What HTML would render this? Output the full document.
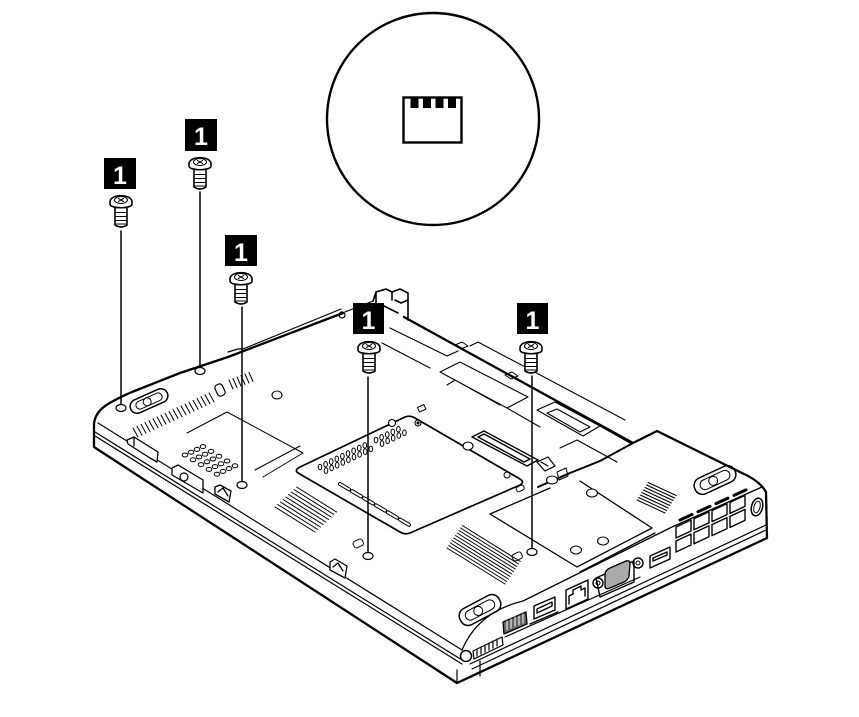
<!DOCTYPE html>
<html><head><meta charset="utf-8"><style>
html,body{margin:0;padding:0;background:#fff;}
svg{display:block;}
.t{font-family:"Liberation Sans",Arial,sans-serif;font-weight:bold;font-size:25px;fill:#fff;}
</style></head><body>
<svg width="859" height="717" viewBox="0 0 859 717" xmlns="http://www.w3.org/2000/svg">
<defs>
<g id="sc">
 <path d="M-6,13 L-6,30 Q0,34 6,30 L6,13" fill="#fff" stroke="#000" stroke-width="1.6"/>
 <path d="M-6,17.5 L6,17.5 M-6,21.5 L6,21.5 M-6,25.5 L6,25.5 M-5,29 L5,29" stroke="#000" stroke-width="1"/>
 <path d="M-11,7 C-11,-1.5 11,-1.5 11,7 L11,9 C11,14 -11,14 -11,9 Z" fill="#fff" stroke="#000" stroke-width="1.6"/>
 <ellipse cx="0" cy="5" rx="6.5" ry="3.5" fill="none" stroke="#000" stroke-width="1"/>
 <path d="M-3,3.3 L3,6.7 M3,3.3 L-3,6.7" stroke="#000" stroke-width="1"/>
</g>
</defs>
<rect width="859" height="717" fill="#fff"/>

<!-- callout circle -->
<circle cx="433" cy="119" r="106" fill="none" stroke="#000" stroke-width="2.4"/>
<rect x="403.5" y="97.5" width="58" height="45" fill="none" stroke="#000" stroke-width="2.4"/>
<rect x="410.5" y="97" width="8" height="11" fill="#000"/>
<rect x="423" y="97" width="8" height="11" fill="#000"/>
<rect x="435.5" y="97" width="8" height="11" fill="#000"/>
<rect x="448" y="97" width="8" height="11" fill="#000"/>

<g fill="none" stroke="#000" stroke-linecap="round" stroke-linejoin="round">

<!-- main outline -->
<path stroke-width="2.3" d="M94,432 L94,424 Q95,412 108,404 Q118,398 132,392 L180,373 L228,357 L343,313"/>
<path stroke-width="1.2" d="M228,352 L238,349 L243,349 L341,309"/>
<circle cx="342" cy="315" r="3" stroke-width="1.2"/>
<path stroke-width="1.2" d="M345,312 L373,301"/>
<path stroke-width="1.6" d="M373,301 L376,292 L386,289 L392,292 L400,289 L408,293 L408,320 M376,292 L376,303 M392,292 L392,300 M408,300 L401,303 L395,300 M380,304 L398,313"/>
<path stroke-width="2.3" d="M404,317 L633,443 L657,431 L742,473 Q760,481 766,492 L767,538 L457,683 L94,447 L94,432"/>

<!-- front-left face -->
<path stroke-width="1.2" d="M98,423 L462,650 M95,432 L462,660 M95,436 L462,664 M457,670 L457,683 M480,661 L480,676"/>
<!-- front-right (port) face -->
<path stroke-width="1.3" d="M462,650 Q478,612 523,601 L672,527 L762,487"/>
<path stroke-width="1.2" d="M470,664 L766,525 M472,669 L766,530 M505,637 L640,577"/>
<circle cx="466" cy="656" r="5.5" stroke-width="1.5"/>
<path stroke-width="1.2" d="M473,651 L502,637 L503,645 L474,659 Z M477,649 L477,656 M481,647 L481,654 M485,645 L485,652 M489,643 L489,650 M493,641 L493,648 M497,639 L497,646"/>
<path stroke-width="1.3" fill="#666" d="M503,622 L526,612 L527,624 L504,634 Z"/>
<path stroke-width="1" stroke="#fff" d="M507,621 L507,630 M511,619 L511,628 M515,617 L515,626 M519,616 L519,625 M523,614 L523,623"/>
<path stroke-width="1.4" d="M534,606 L555,597 L555,610 L534,619 Z M537,609 L552,602 L552,606 L537,613 Z M530,624 L558,612"/>
<path stroke-width="1.4" d="M566,590 L588,580 L588,599 L566,609 Z M569,604 L569,596 L573,594 L573,590 L581,586 L581,590 L585,588 L585,596"/>
<path stroke-width="1.4" d="M596,578 L634,561 L634,582 L600,597 Z"/>
<path stroke-width="1.3" fill="#aaa" d="M605,575 Q605,570 610,568 L626,561 Q630,560 630,564 L629,576 Q628,580 624,582 L610,588 Q605,590 605,586 Z"/>
<circle cx="598" cy="583" r="5" stroke-width="1.4"/><circle cx="598" cy="583" r="2" stroke-width="1"/>
<circle cx="638" cy="563" r="5" stroke-width="1.4"/><circle cx="638" cy="563" r="2" stroke-width="1"/>
<path stroke-width="1.4" d="M650,556 L670,547 L670,559 L650,568 Z M653,558 L667,552 L667,555 L653,561 Z"/>
<!-- fan grille -->
<path stroke-width="1.4" d="M676,527 L691,520 L691,531 L676,538 Z M694,518.8 L709,511.8 L709,522.8 L694,529.8 Z M712,510.6 L727,503.6 L727,514.6 L712,521.6 Z M730,502.4 L745,495.4 L745,506.4 L730,513.4 Z M676,541 L691,534 L691,545 L676,552 Z M694,532.8 L709,525.8 L709,536.8 L694,543.8 Z M712,524.6 L727,517.6 L727,528.6 L712,535.6 Z M730,516.4 L745,509.4 L745,520.4 L730,527.4 Z"/>
<path stroke-width="3" d="M680,520 L692,514.5 M698,511.8 L710,506.3 M716,503.6 L728,498.1 M734,495.4 L746,489.9"/>
<ellipse cx="757" cy="507" rx="5.5" ry="9" stroke-width="1.5" transform="rotate(15 757 507)"/>
<ellipse cx="757" cy="507" rx="3" ry="6" stroke-width="1" transform="rotate(15 757 507)"/>

<!-- foot pads -->
<g transform="translate(149,401) rotate(-24)" stroke-width="1.5"><rect x="-20" y="-7" width="40" height="14" rx="7"/><rect x="-14" y="-4" width="28" height="8" rx="4" stroke-width="1"/><circle cx="-2" cy="0" r="4" stroke-width="1"/></g>
<g transform="translate(480,610) rotate(-28)" stroke-width="1.5"><rect x="-22" y="-9" width="44" height="18" rx="8"/><rect x="-16" y="-5" width="32" height="10" rx="5" stroke-width="1"/><circle cx="-2" cy="0" r="4.5" stroke-width="1"/></g>
<g transform="translate(715,480) rotate(-25)" stroke-width="1.5"><rect x="-22" y="-8.5" width="44" height="17" rx="8"/><rect x="-16" y="-5" width="32" height="10" rx="5" stroke-width="1"/><circle cx="-2" cy="0" r="4.5" stroke-width="1"/></g>

<!-- left vent -->
<path stroke-width="1" d="M133,428l5,9 M137,426.2l5,9 M141,424.3l5,9 M145,422.5l5,9 M149,420.6l5,9 M153,418.8l5,9 M157,416.9l5,9 M161,415.1l5,9 M165,413.2l5,9 M169,411.4l5,9 M173,409.5l5,9 M177,407.7l5,9 M181,405.8l5,9 M185,404l5,9 M189,402.1l5,9 M193,400.3l5,9 M197,398.4l5,9 M201,396.6l5,9 M205,394.7l5,9 M209,392.9l5,9"/>
<rect x="216" y="384" width="8" height="12" rx="3" stroke-width="1.2" transform="rotate(-25 220 390)"/>
<path stroke-width="1" d="M229,380l4,9 M233,378.5l4,9 M237,377l4,9 M241,375.5l4,9 M245,374l4,9 M249,372.5l4,9"/>
<ellipse cx="277" cy="395" rx="5" ry="4" stroke-width="1.1"/>

<!-- left inner panel and honeycomb -->
<path stroke-width="1" d="M187,433 L227,412 L303,453 M263,477 L303,453 M255,470 L300,446"/>
<g stroke-width="1">
<ellipse cx="185" cy="455" rx="2.8" ry="2"/><ellipse cx="191" cy="452.2" rx="2.8" ry="2"/><ellipse cx="197" cy="449.4" rx="2.8" ry="2"/><ellipse cx="203" cy="446.6" rx="2.8" ry="2"/>
<ellipse cx="193" cy="459.8" rx="2.8" ry="2"/><ellipse cx="199" cy="457" rx="2.8" ry="2"/><ellipse cx="205" cy="454.2" rx="2.8" ry="2"/><ellipse cx="211" cy="451.4" rx="2.8" ry="2"/>
<ellipse cx="201" cy="464.6" rx="2.8" ry="2"/><ellipse cx="207" cy="461.8" rx="2.8" ry="2"/><ellipse cx="213" cy="459" rx="2.8" ry="2"/><ellipse cx="219" cy="456.2" rx="2.8" ry="2"/>
<ellipse cx="209" cy="469.4" rx="2.8" ry="2"/><ellipse cx="215" cy="466.6" rx="2.8" ry="2"/><ellipse cx="221" cy="463.8" rx="2.8" ry="2"/><ellipse cx="227" cy="461" rx="2.8" ry="2"/>
<ellipse cx="217" cy="474.2" rx="2.8" ry="2"/><ellipse cx="223" cy="471.4" rx="2.8" ry="2"/><ellipse cx="229" cy="468.6" rx="2.8" ry="2"/><ellipse cx="235" cy="465.8" rx="2.8" ry="2"/>
</g>

<!-- front-left face features -->
<path stroke-width="1.3" fill="#fff" d="M127,440 L134,437 L158,452 L157,462 L150,458 L128,444 Z M134,437 L134,446"/>
<path stroke-width="1.3" fill="#fff" d="M172,468 L178,465 L203,480 L203,493 L172,475 Z"/>
<circle cx="184" cy="477" r="4" stroke-width="1.2"/>
<path stroke-width="1.3" fill="#fff" d="M215,487 L220,485 L231,491 L229,502 L215,494 Z M218,492 L223,488 L228,496"/>
<path stroke-width="1.3" fill="#fff" d="M330,562 L335,559 L347,566 L345,578 L330,570 Z M333,567 L338,563 L343,571"/>

<!-- memory door -->
<path stroke-width="1.7" d="M300,467 L405,417 Q410,415 415,418 L520,479 Q525,482 520,485 L410,533 Q405,535 400,532 L298,473 Q294,470 300,467 Z"/>
<circle cx="392" cy="423" r="3.5" fill="#fff" stroke-width="1.1"/>
<circle cx="418" cy="423" r="3" stroke-width="1.1"/><circle cx="418" cy="423" r="1" fill="#000"/>
<ellipse cx="468" cy="446" rx="5" ry="4" fill="#fff" stroke-width="1.1"/>
<rect x="418" y="406" width="7" height="5" stroke-width="1" transform="rotate(-25 421 408)"/>
<g stroke-width="1">
<ellipse cx="320" cy="467" rx="1.8" ry="2.8"/><ellipse cx="325.6" cy="464.3" rx="1.8" ry="2.8"/><ellipse cx="331.2" cy="461.6" rx="1.8" ry="2.8"/><ellipse cx="336.8" cy="458.9" rx="1.8" ry="2.8"/><ellipse cx="342.4" cy="456.2" rx="1.8" ry="2.8"/><ellipse cx="348" cy="453.5" rx="1.8" ry="2.8"/><ellipse cx="353.6" cy="450.8" rx="1.8" ry="2.8"/><ellipse cx="359.2" cy="448.1" rx="1.8" ry="2.8"/><ellipse cx="364.8" cy="445.4" rx="1.8" ry="2.8"/><ellipse cx="376" cy="440" rx="1.8" ry="2.8"/><ellipse cx="381.6" cy="437.3" rx="1.8" ry="2.8"/><ellipse cx="387.2" cy="434.6" rx="1.8" ry="2.8"/><ellipse cx="392.8" cy="431.9" rx="1.8" ry="2.8"/><ellipse cx="398.4" cy="429.2" rx="1.8" ry="2.8"/>
<ellipse cx="326" cy="470.6" rx="1.8" ry="2.8"/><ellipse cx="331.6" cy="467.9" rx="1.8" ry="2.8"/><ellipse cx="337.2" cy="465.2" rx="1.8" ry="2.8"/><ellipse cx="342.8" cy="462.5" rx="1.8" ry="2.8"/><ellipse cx="348.4" cy="459.8" rx="1.8" ry="2.8"/><ellipse cx="354" cy="457.1" rx="1.8" ry="2.8"/><ellipse cx="359.6" cy="454.4" rx="1.8" ry="2.8"/><ellipse cx="365.2" cy="451.7" rx="1.8" ry="2.8"/><ellipse cx="370.8" cy="449" rx="1.8" ry="2.8"/><ellipse cx="382" cy="443.6" rx="1.8" ry="2.8"/><ellipse cx="387.6" cy="440.9" rx="1.8" ry="2.8"/><ellipse cx="393.2" cy="438.2" rx="1.8" ry="2.8"/><ellipse cx="398.8" cy="435.5" rx="1.8" ry="2.8"/><ellipse cx="404.4" cy="432.8" rx="1.8" ry="2.8"/>
</g>
<path stroke-width="4" d="M340,484 L349,489.3 M352,491.1 L361,496.4 M364,498.2 L373,503.5 M376,505.3 L385,510.6 M388,512.4 L397,517.7 M400,519.5 L409,524.8"/>
<path stroke-width="2" stroke="#fff" d="M340,484 L349,489.3 M352,491.1 L361,496.4 M364,498.2 L373,503.5 M376,505.3 L385,510.6 M388,512.4 L397,517.7 M400,519.5 L409,524.8"/>

<!-- upper middle panels -->
<path stroke-width="1.1" d="M390,328 L447,356 L458,351 M440,372 L460,362 L528,397 L507,408 Z M447,385 L455,380 L500,405 M382,343 L430,368 M507,408 L540,427 M470,346 L478,342 L625,420 M537,410 L555,402 L600,426 L583,436 Z M547,413 L557,409 L590,427 L580,432 Z M560,448 L577,440 L617,462 M600,426 L630,443"/>
<path stroke-width="1" d="M455,345 L462,342 L468,346 L461,349 Z M505,375 L512,372 L518,376 L511,379 Z"/>
<path stroke-width="1.4" d="M472,437 L484,431 L538,460 L527,466 Z M478,437 L484,434 L530,459 L524,462 Z"/>
<path stroke-width="1.2" d="M537,462 L548,457 L555,466 L545,471 Z M541,462 L548,466"/>
<circle cx="507" cy="475" r="3" stroke-width="1"/>
<rect x="516" y="486" width="8" height="5" rx="2" stroke-width="1" transform="rotate(-25 520 488)"/>

<!-- HDD / battery step -->
<path stroke-width="2" d="M538,487 L570,473 L600,461 L633,443"/>
<ellipse cx="552" cy="480" rx="5.5" ry="4" fill="#fff" stroke-width="1.1"/>
<path stroke-width="1" d="M557,472 L566,468 L568,476 L559,480 Z"/>
<path stroke-width="1.3" d="M490,514 L550,488 M490,514 L577,567 L652,528 L580,481 M580,572 L655,533"/>
<ellipse cx="592" cy="493" rx="5.5" ry="4" fill="#fff" stroke-width="1.1"/>
<ellipse cx="576" cy="550" rx="5.5" ry="4" stroke-width="1.1"/>
<ellipse cx="603" cy="541" rx="5.5" ry="4" stroke-width="1.1"/>
<rect x="512" y="553" width="10" height="7" rx="2.5" stroke-width="1" transform="rotate(-25 517 556)"/>
<rect x="353" y="540" width="10" height="7" rx="2.5" stroke-width="1" transform="rotate(-25 358 543)"/>

<!-- lower vents -->
<path stroke-width="1" d="M275,507l40,25 M277.7,504.5l40,25 M280.4,502l40,25 M283.1,499.5l40,25 M285.8,497l40,25 M288.5,494.5l40,25 M291.2,492l40,25 M293.9,489.5l40,25 M296.6,487l40,25"/>
<path stroke-width="1" d="M447,548l58,36 M448.7,545.5l58,36 M450.4,543l58,36 M452.1,540.5l58,36 M453.8,538l58,36 M455.5,535.5l58,36 M457.2,533l58,36 M458.9,530.5l58,36 M460.6,528l58,36 M462.3,525.5l58,36"/>
<path stroke-width="1" d="M637,500l28,13 M638.6,497.5l28,13 M640.2,495l28,13 M641.8,492.5l28,13 M643.4,490l28,13 M645,487.5l28,13 M646.6,485l28,13 M648.2,482.5l28,13"/>

<!-- screw holes -->
<g stroke-width="1.2" fill="#fff">
<ellipse cx="121" cy="408" rx="5" ry="3.5"/>
<ellipse cx="200" cy="371" rx="5" ry="3.5"/>
<ellipse cx="242" cy="485" rx="5" ry="3.5"/>
<ellipse cx="368" cy="556" rx="5" ry="3.5"/>
<ellipse cx="532" cy="552" rx="5" ry="3.5"/>
</g>

<!-- leader lines -->
<path stroke-width="1.5" d="M121,231 L121,404 M200,192 L200,367 M242,307 L242,481 M368,377 L368,552 M532,376 L532,548"/>
</g>

<!-- screws -->
<use href="#sc" transform="translate(121,195)"/>
<use href="#sc" transform="translate(200,157)"/>
<use href="#sc" transform="translate(241,272)"/>
<use href="#sc" transform="translate(369,341)"/>
<use href="#sc" transform="translate(531,341)"/>

<!-- labels -->
<rect x="104" y="158" width="32" height="31" fill="#000"/><text class="t" x="120" y="184" text-anchor="middle">1</text>
<rect x="185" y="119" width="32" height="32" fill="#000"/><text class="t" x="201" y="145" text-anchor="middle">1</text>
<rect x="225" y="235" width="32" height="31" fill="#000"/><text class="t" x="241" y="261" text-anchor="middle">1</text>
<rect x="353" y="303" width="31" height="31" fill="#000"/><text class="t" x="368.5" y="329" text-anchor="middle">1</text>
<rect x="517" y="303" width="31" height="31" fill="#000"/><text class="t" x="532.5" y="329" text-anchor="middle">1</text>
</svg>
</body></html>
